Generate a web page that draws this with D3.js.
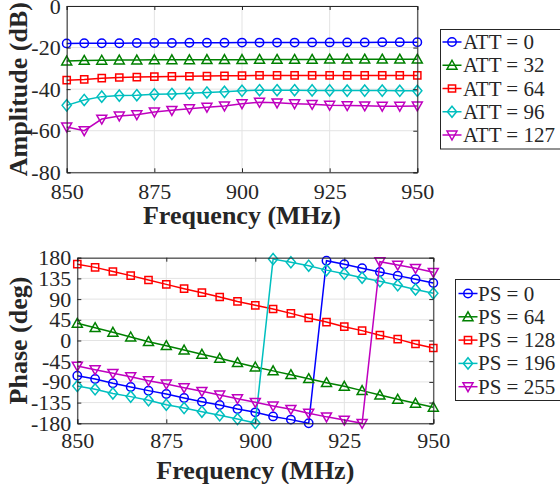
<!DOCTYPE html>
<html>
<head>
<meta charset="utf-8">
<script src="https://cdn.jsdelivr.net/npm/d3@7"></script>
<style>
  html, body { margin: 0; padding: 0; background: #fff; }
  svg { display: block; }
  text { font-family: "Liberation Serif", "Times New Roman", serif; fill: #262626; }
</style>
</head>
<body>
<svg id="chart" width="560" height="484"></svg>
<script>
// ---------------- DATA ----------------
const freqs = [850,855,860,865,870,875,880,885,890,895,900,905,910,915,920,925,930,935,940,945,950];

const ampTicksY = [-80,-60,-40,-20,0];
const phaseTicksY = [-180,-135,-90,-45,0,45,90,135,180];
const freqTicks = [850,875,900,925,950];

const ampLabels = ["ATT = 0","ATT = 32","ATT = 64","ATT = 96","ATT = 127"];
const att0   = [-18.0,-17.9,-17.9,-17.9,-17.8,-17.8,-17.8,-17.7,-17.7,-17.7,-17.6,-17.6,-17.6,-17.6,-17.5,-17.5,-17.5,-17.5,-17.4,-17.4,-17.4];
const att32  = [-26.5,-26.2,-26.1,-26.0,-26.0,-25.9,-25.9,-25.9,-25.8,-25.8,-25.8,-25.7,-25.7,-25.7,-25.7,-25.6,-25.6,-25.6,-25.6,-25.6,-25.6];
const att64  = [-35.7,-35.3,-34.7,-34.4,-34.2,-34.0,-33.9,-33.8,-33.7,-33.6,-33.5,-33.4,-33.4,-33.4,-33.4,-33.4,-33.4,-33.4,-33.4,-33.4,-33.4];
const att96  = [-47.8,-45.2,-43.6,-43.1,-42.9,-42.5,-42.3,-42.0,-41.6,-41.3,-40.8,-40.5,-40.5,-40.5,-40.6,-40.6,-40.7,-40.7,-40.7,-40.8,-40.8];
const att127 = [-58.2,-60.0,-54.4,-52.9,-52.3,-51.0,-50.2,-49.4,-48.7,-48.1,-47.0,-46.3,-46.6,-47.0,-47.3,-47.7,-47.9,-48.0,-48.2,-48.2,-48.1];

const phaseLabels = ["PS = 0","PS = 64","PS = 128","PS = 196","PS = 255"];
const ps0   = [-76.5,-83.7,-93.0,-101.0,-109.0,-116.3,-125.0,-133.0,-140.2,-149.0,-156.2,-165.0,-172.0,-180.0,173.5,165.6,157.0,149.0,141.0,133.0,125.0];
const ps64  = [37.4,27.8,17.8,7.6,-2.6,-11.3,-20.7,-30.0,-38.7,-48.3,-57.6,-66.0,-74.4,-83.0,-91.7,-99.6,-109.0,-118.5,-127.8,-136.5,-145.3];
const ps128 = [166.0,159.0,150.0,141.0,131.5,122.0,112.6,104.0,94.6,85.0,76.5,68.5,59.0,49.0,40.0,30.0,21.5,11.5,3.0,-7.6,-16.3];
const ps196 = [-99.0,-106.0,-115.0,-122.0,-130.0,-139.6,-146.8,-154.8,-162.6,-170.7,-179.4,177.0,170.0,162.6,153.0,145.0,136.5,128.7,120.0,111.0,102.6];
const ps255 = [-55.5,-63.5,-71.3,-78.7,-87.4,-94.6,-102.6,-110.4,-118.5,-126.5,-134.4,-142.4,-149.6,-158.0,-166.0,-173.0,-180.0,171.3,164.0,157.0,148.3];

const colors  = ["#0000ff","#008000","#ff0000","#00bfbf","#bf00bf"];
const markers = ["circle","triUp","square","diamond","triDown"];

// ---------------- DRAW ----------------
const svg = d3.select("#chart");
svg.append("rect").attr("width",560).attr("height",484).attr("fill","#fff");

function markerPath(kind) {
  switch (kind) {
    case "circle":  return d3.symbol(d3.symbolCircle, Math.PI*4.2*4.2)();
    case "triUp":   return "M0,-5L5,3.9L-5,3.9Z";
    case "triDown": return "M0,5L5,-3.9L-5,-3.9Z";
    case "square":  return "M-3.6,-3.6H3.6V3.6H-3.6Z";
    case "diamond": return "M0,-5.6L4.6,0L0,5.6L-4.6,0Z";
  }
}

function panel(opts) {
  const x = d3.scaleLinear().domain([850,950]).range(opts.xr);
  const y = d3.scaleLinear().domain(opts.yd).range(opts.yr);
  const g = svg.append("g");
  const [x0,x1] = opts.xr, [y1,y0] = opts.yr;

  g.append("rect").attr("x",x0).attr("y",y0).attr("width",x1-x0).attr("height",y1-y0).attr("fill","#fff");

  // grid
  g.append("g").selectAll("line").data(freqs.filter((f,i)=>freqTicks.includes(f)))
    .join("line").attr("x1",d=>x(d)).attr("x2",d=>x(d)).attr("y1",y0).attr("y2",y1)
    .attr("stroke","#e3e3e3").attr("stroke-width",1);
  g.append("g").selectAll("line").data(opts.yticks)
    .join("line").attr("x1",x0).attr("x2",x1).attr("y1",d=>y(d)).attr("y2",d=>y(d))
    .attr("stroke","#e3e3e3").attr("stroke-width",1);

  // series
  opts.series.forEach((s,k) => {
    const line = d3.line().x((d,i)=>x(freqs[i])).y(d=>y(d));
    g.append("path").attr("d", line(s)).attr("fill","none")
      .attr("stroke", colors[k]).attr("stroke-width",1.5);
    g.append("g").selectAll("path").data(s).join("path")
      .attr("transform",(d,i)=>`translate(${x(freqs[i])},${y(d)})`)
      .attr("d", markerPath(markers[k]))
      .attr("fill","none").attr("stroke",colors[k]).attr("stroke-width",1.5);
  });

  // axes
  const fontSize = 22;
  const axB = d3.axisBottom(x).tickValues(freqTicks).tickSize(-4).tickPadding(opts.xpad).tickFormat(d3.format("d"));
  const axT = d3.axisTop(x).tickValues(freqTicks).tickSize(-4).tickFormat("");
  const axL = d3.axisLeft(y).tickValues(opts.yticks).tickSize(-4).tickPadding(6).tickFormat(d=>String(d).replace("\u2212","-"));
  const axR = d3.axisRight(y).tickValues(opts.yticks).tickSize(-4).tickFormat("");
  const styleAx = sel => {
    sel.selectAll(".domain").attr("stroke","#262626").attr("stroke-width",1);
    sel.selectAll(".tick line").attr("stroke","#262626").attr("stroke-width",1);
    sel.selectAll(".tick text").attr("font-size",fontSize)
      .attr("font-family","'Liberation Serif', serif").attr("fill","#262626");
  };
  g.append("g").attr("transform",`translate(0,${y1})`).call(axB).call(styleAx);
  g.append("g").attr("transform",`translate(0,${y0})`).call(axT).call(styleAx);
  g.append("g").attr("transform",`translate(${x0},0)`).call(axL).call(styleAx);
  g.append("g").attr("transform",`translate(${x1},0)`).call(axR).call(styleAx);

  // labels
  g.append("text").attr("x",(x0+x1)/2).attr("y",opts.xlabY).attr("text-anchor","middle")
    .attr("font-size",26).attr("font-weight","bold").text("Frequency (MHz)");
  g.append("text").attr("transform",`translate(${opts.ylabX},${(y0+y1)/2}) rotate(-90)`)
    .attr("text-anchor","middle").attr("font-size",26).attr("font-weight","bold").text(opts.ylabel);

  // legend
  const L = opts.legend;
  const lg = svg.append("g");
  lg.append("rect").attr("x",L.x).attr("y",L.y).attr("width",L.w).attr("height",L.h)
    .attr("fill","#fff").attr("stroke","#262626").attr("stroke-width",1);
  opts.labels.forEach((lab,k) => {
    const cy = L.y0 + k*L.dy;
    lg.append("line").attr("x1",L.mx-9.5).attr("x2",L.mx+9.5).attr("y1",cy).attr("y2",cy)
      .attr("stroke",colors[k]).attr("stroke-width",1.5);
    lg.append("path").attr("transform",`translate(${L.mx},${cy})`).attr("d",markerPath(markers[k]))
      .attr("fill","none").attr("stroke",colors[k]).attr("stroke-width",1.5);
    lg.append("text").attr("x",L.tx).attr("y",cy+7).attr("font-size",21).attr("fill","#000").text(lab);
  });
}

panel({
  xr:[66.7,417.3], yd:[-80,0], yr:[172.3,6], yticks:ampTicksY, xpad:11,
  series:[att0,att32,att64,att96,att127], labels:ampLabels,
  xlabY:224, ylabX:27, ylabel:"Amplitude (dB)",
  legend:{x:440.5, y:29.5, w:130, h:119.5, y0:42, dy:23.25, mx:452, tx:463}
});

panel({
  xr:[77.3,433.3], yd:[-180,180], yr:[423.3,257.7], yticks:phaseTicksY, xpad:9.5,
  series:[ps0,ps64,ps128,ps196,ps255], labels:phaseLabels,
  xlabY:478.5, ylabX:27, ylabel:"Phase (deg)",
  legend:{x:455.5, y:279.5, w:120, h:121, y0:293.5, dy:23.3, mx:468, tx:478}
});
</script>
</body>
</html>
